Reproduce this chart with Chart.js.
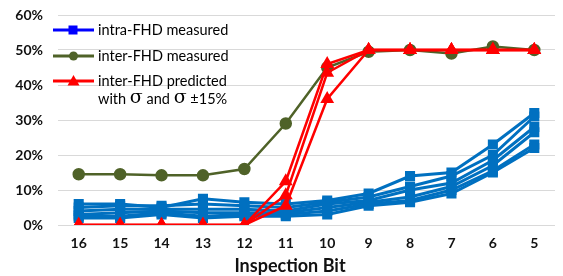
<!DOCTYPE html>
<html><head><meta charset="utf-8">
<script src="https://cdn.jsdelivr.net/npm/chart.js@4"></script>
<style>html,body{margin:0;padding:0;background:#fff}#wrap{width:563px;height:276px;position:relative}</style>
</head><body><div id="wrap"><canvas id="c" width="563" height="276"></canvas></div>
<script>
const inspectionBits = ['16','15','14','13','12','11','10','9','8','7','6','5'];
const yTicks = [0,10,20,30,40,50,60];
const xAxisTitle = 'Inspection Bit';

const intra1 = [6.0, 6.0, 5.0, 7.5, 6.5, 6.0, 7.0, 9.0, 14.0, 15.0, 23.0, 32.0];
const intra2 = [5.0, 5.5, 5.5, 6.0, 5.5, 5.0, 6.5, 8.0, 11.0, 14.0, 20.0, 31.0];
const intra3 = [4.0, 4.5, 4.5, 4.5, 4.5, 4.0, 6.0, 7.0, 10.0, 12.0, 18.5, 28.0];
const intra4 = [3.0, 3.5, 4.0, 3.5, 3.5, 3.5, 5.0, 6.5, 8.0, 11.0, 17.0, 26.5];
const intra5 = [2.5, 2.5, 3.5, 2.5, 3.0, 3.0, 4.0, 6.0, 7.0, 10.0, 15.5, 23.0];
const intra6 = [2.0, 2.0, 3.0, 2.0, 2.5, 2.5, 3.0, 5.5, 6.5, 9.0, 15.0, 22.0];

const interMeasured = [14.5, 14.5, 14.2, 14.2, 16.0, 29.0, 45.0, 49.5, 50.0, 49.0, 51.0, 50.0];

const predSigma     = [0, 0, 0, 0, 0, 8.5, 43.5, 50, 50, 50, 50, 50];
const predSigmaLow  = [0, 0, 0, 0, 0, 12.5, 46.0, 50, 50, 50, 50, 50];
const predSigmaHigh = [0, 0, 0, 0, 0, 5.5, 36.0, 50, 50, 50, 50, 50];

const legendItems = [
  {text: ['intra-FHD measured'], color: '#0000FF', style: 'rect'},
  {text: ['inter-FHD measured'], color: '#4F6228', style: 'circle'},
  {text: ['inter-FHD predicted', 'with σ and σ ±15%'], color: '#FF0000', style: 'triangle'}
];

const BLUE = '#0070C0', GREEN = '#4F6228', RED = '#FF0000';

function redSet(data){
  return {data, borderColor: RED, backgroundColor: RED, borderWidth: 2.5,
    pointStyle: 'triangle', pointRadius: 5.5, pointHoverRadius: 5.5, tension: 0};
}
function blueSet(data){
  return {data, borderColor: BLUE, backgroundColor: BLUE, borderWidth: 3,
    pointStyle: 'rect', pointRadius: 5, pointHoverRadius: 5, tension: 0};
}

const legendPlugin = {
  id: 'insideLegend',
  afterDraw(chart){
    const ctx = chart.ctx;
    ctx.save();
    const ys = [30, 56, 81];
    legendItems.forEach((it, i) => {
      const y = ys[i];
      ctx.strokeStyle = it.color; ctx.fillStyle = it.color; ctx.lineWidth = 3;
      ctx.beginPath(); ctx.moveTo(53, y); ctx.lineTo(94, y); ctx.stroke();
      ctx.beginPath();
      if (it.style === 'rect') { ctx.fillRect(68.5, y-4.5, 9, 9); }
      else if (it.style === 'circle') { ctx.arc(73.5, y, 4.5, 0, Math.PI*2); ctx.fill(); }
      else { ctx.moveTo(73.5, y-6); ctx.lineTo(79.5, y+4.5); ctx.lineTo(67.5, y+4.5); ctx.closePath(); ctx.fill(); }
      ctx.fillStyle = '#000';
      ctx.font = '14.5px Lato';
      ctx.textBaseline = 'middle';
      ctx.textAlign = 'left';
      it.text.forEach((line, j) => {
        const ly = y + j * 18.5;
        if (line.indexOf('σ') < 0) { ctx.fillText(line, 98, ly); }
        else {
          let x = 98;
          const parts = line.split(/(σ)/);
          parts.forEach(p => {
            if (p === 'σ') { ctx.font = '19px "DejaVu Serif"'; ctx.fillText(p, x, ly - 1); x += ctx.measureText(p).width; ctx.font = '14.5px Lato'; }
            else { ctx.fillText(p, x, ly); x += ctx.measureText(p).width; }
          });
        }
      });
    });
    // x-axis title (Excel places it slightly left of the plot centre)
    ctx.fillStyle = '#111';
    ctx.font = 'bold 18px Lato';
    ctx.textAlign = 'center';
    ctx.textBaseline = 'middle';
    ctx.fillText(xAxisTitle, 290, 266);
    ctx.restore();
  }
};

new Chart(document.getElementById('c'), {
  type: 'line',
  data: {
    labels: inspectionBits,
    datasets: [
      redSet(predSigmaLow), redSet(predSigma), redSet(predSigmaHigh),
      {data: interMeasured, borderColor: GREEN, backgroundColor: GREEN, borderWidth: 2.5,
        pointStyle: 'circle', pointRadius: 5, pointHoverRadius: 5, tension: 0},
      blueSet(intra1), blueSet(intra2), blueSet(intra3), blueSet(intra4), blueSet(intra5), blueSet(intra6)
    ]
  },
  options: {
    responsive: false, animation: false, devicePixelRatio: 1,
    layout: {padding: {top: 15, right: 0, left: 0, bottom: 0}},
    plugins: {legend: {display: false}, tooltip: {enabled: false}},
    scales: {
      x: {
        offset: true,
        grid: {display: false, drawTicks: false},
        border: {display: false},
        ticks: {color: '#111', font: {family: 'Lato', size: 14, weight: 'bold'}, padding: 10, maxRotation: 0, autoSkip: false},
        title: {display: false},
        afterFit(s){ s.height = 51; }
      },
      y: {
        min: 0, max: 60,
        afterBuildTicks(s){ s.ticks = yTicks.map(v => ({value: v})); },
        grid: {color: '#D9D9D9', lineWidth: 1, drawTicks: false},
        border: {display: false},
        ticks: {color: '#111', font: {family: 'Lato', size: 14, weight: 'bold'}, padding: 15, callback: v => v + '%'},
        afterFit(s){ s.width = 58; s.paddingTop = 8; s.paddingBottom = 8; }
      }
    }
  },
  plugins: [legendPlugin]
});
</script></body></html>
